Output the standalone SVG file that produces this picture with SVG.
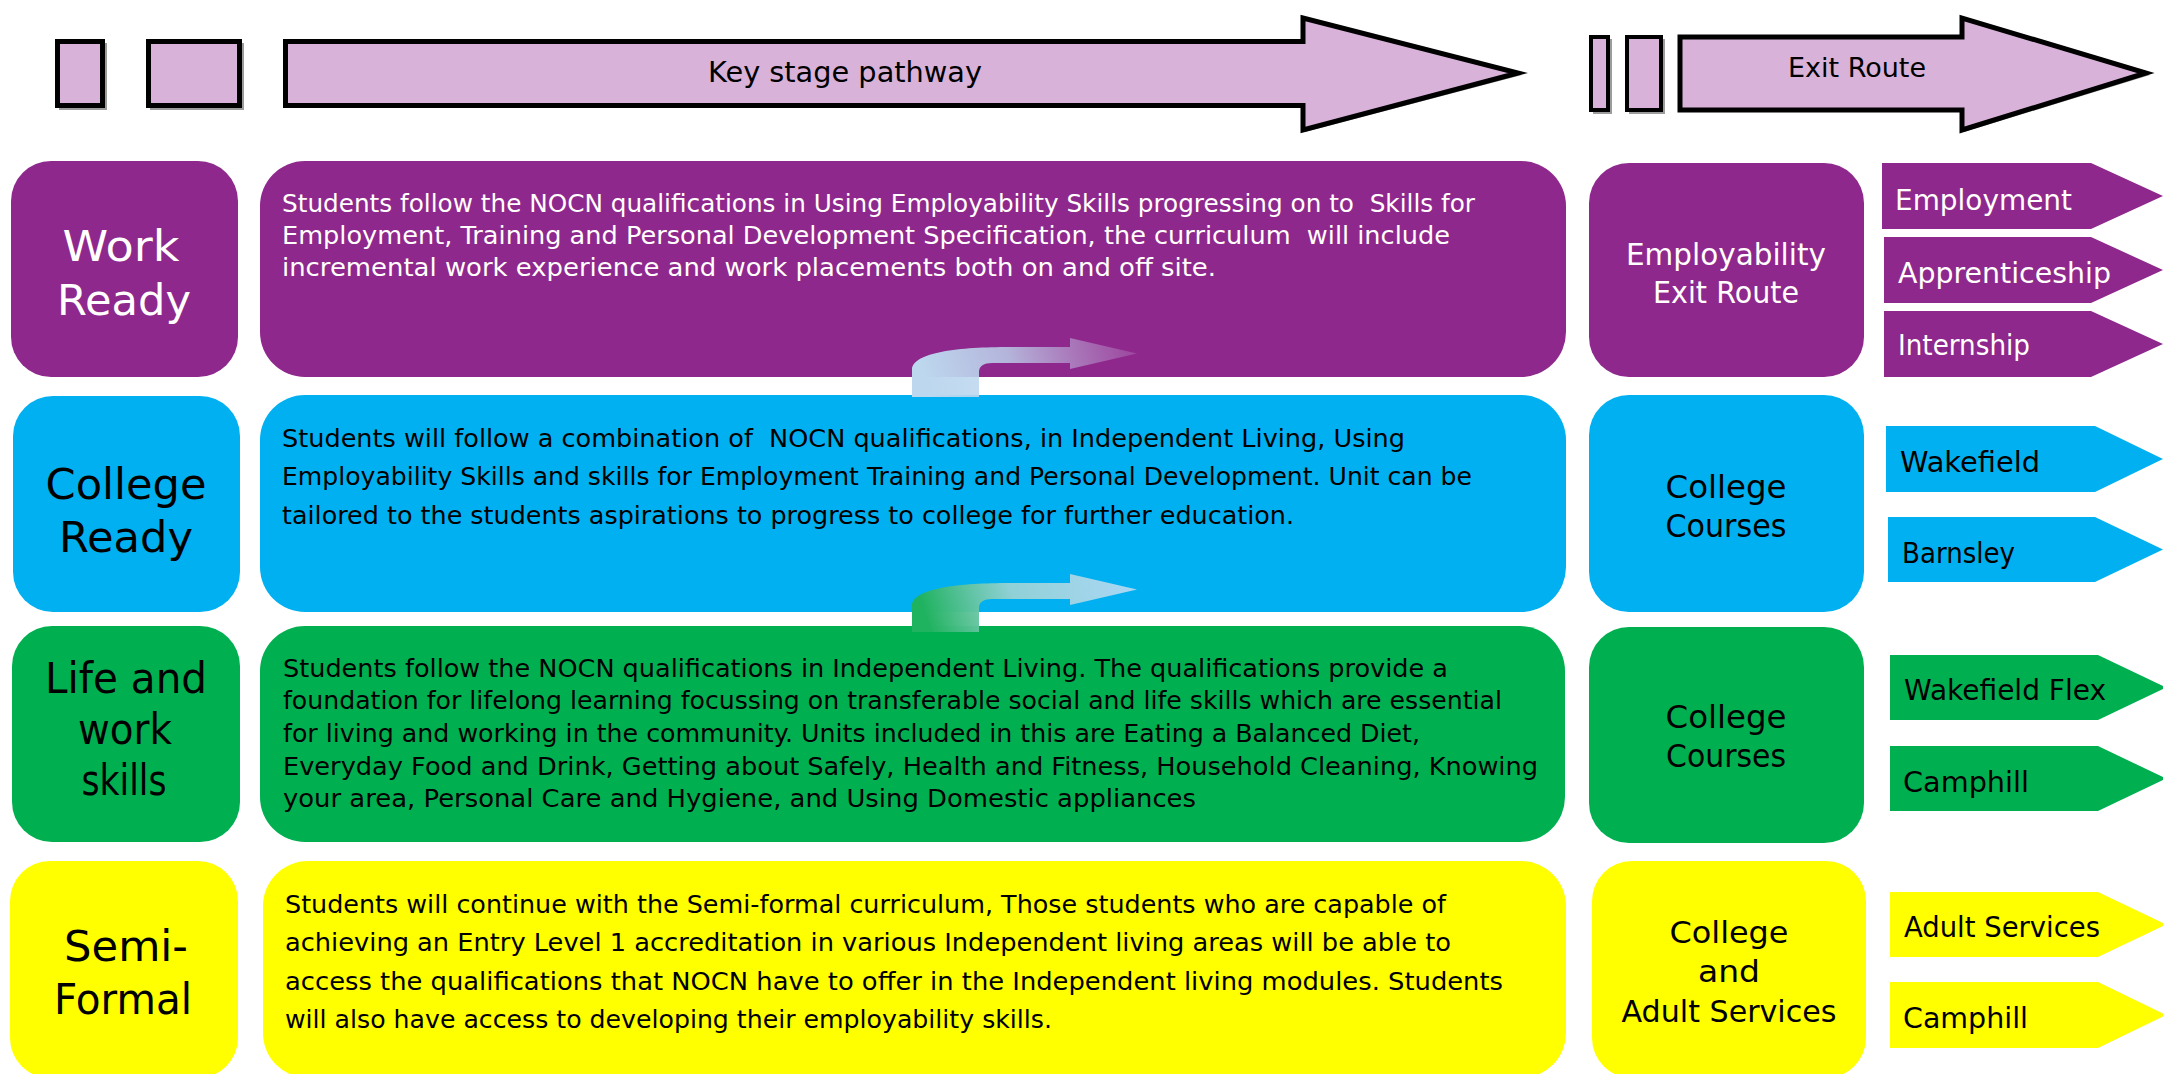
<svg xmlns="http://www.w3.org/2000/svg" width="2163" height="1074" viewBox="0 0 2163 1074">
<style>
.t{font-family:"DejaVu Sans","Liberation Sans",sans-serif}
.hdr{fill:#D8B2D8;stroke:#000;stroke-width:5;stroke-linejoin:miter;stroke-miterlimit:10}
.sh{fill:#9c9c9c}
.pur{fill:#8F288C}
.blu{fill:#00B0F0}
.grn{fill:#00B050}
.yel{fill:#FFFF00}
.lbl{font-size:42px;text-anchor:middle}
.body{font-size:25px}
.rt{text-anchor:middle}
.ex{font-size:28px}
.w{fill:#fff}
.k{fill:#000}
</style>
<defs>
<linearGradient id="g1" gradientUnits="userSpaceOnUse" x1="930" y1="395" x2="1137" y2="340">
<stop offset="0" stop-color="#BDD7EE" stop-opacity="1"/>
<stop offset="0.4" stop-color="#BDD7EE" stop-opacity="0.8"/>
<stop offset="1" stop-color="#C9B6DF" stop-opacity="0.2"/>
</linearGradient>
<linearGradient id="g2" gradientUnits="userSpaceOnUse" x1="930" y1="632" x2="1120" y2="575">
<stop offset="0" stop-color="#1FB25F" stop-opacity="1"/>
<stop offset="0.45" stop-color="#9CD3D4" stop-opacity="0.92"/>
<stop offset="1" stop-color="#C6DDF2" stop-opacity="0.85"/>
</linearGradient>
</defs>
<rect width="2163" height="1074" fill="#fff"/>

<g id="header">
<g id="hdr-box-a">
<rect class="sh" x="59" y="43" width="48" height="67"/>
<rect class="hdr" x="57.5" y="41.5" width="45" height="64"/>
</g>
<g id="hdr-box-b">
<rect class="sh" x="150" y="43" width="94" height="67"/>
<rect class="hdr" x="148.5" y="41.5" width="91" height="64"/>
</g>
<g id="key-stage-arrow">
<path class="sh" d="M287,43 H1305 V20 L1522,75 L1305,132 V108 H287 Z"/>
<path class="hdr" d="M285.5,41.5 H1303 V18 L1518,73 L1303,130 V105.5 H285.5 Z"/>
<text class="t" x="845" y="82" font-size="28.5" text-anchor="middle" fill="#000" textLength="274" lengthAdjust="spacingAndGlyphs">Key stage pathway</text>
</g>
<g id="hdr-box-c">
<rect class="sh" x="1593" y="39" width="19" height="75"/>
<rect class="hdr" style="stroke-width:4" x="1591" y="37" width="17" height="73"/>
</g>
<g id="hdr-box-d">
<rect class="sh" x="1629" y="39" width="36" height="75"/>
<rect class="hdr" style="stroke-width:4" x="1627" y="37" width="34" height="73"/>
</g>
<g id="exit-route-arrow">
<path class="sh" d="M1682,39 H1964 V20 L2150,75 L1964,132 V111 H1682 Z"/>
<path class="hdr" d="M1680,37 H1962 V18 L2146,73 L1962,130 V110 H1680 Z"/>
<text class="t" x="1857" y="77" font-size="26" text-anchor="middle" fill="#000" textLength="138" lengthAdjust="spacingAndGlyphs">Exit Route</text>
</g>
</g>

<g id="row-work-ready">
<g id="work-ready-label">
<rect class="pur" x="11" y="161" width="227" height="216" rx="40" ry="40"/>
<text class="t lbl w" x="121" y="261" textLength="117" lengthAdjust="spacingAndGlyphs">Work</text>
<text class="t lbl w" x="124" y="315" textLength="134" lengthAdjust="spacingAndGlyphs">Ready</text>
</g>
<g id="work-ready-body">
<rect class="pur" x="260" y="161" width="1306" height="216" rx="45" ry="45"/>
<text class="t body w" x="282" y="212" textLength="1193" lengthAdjust="spacingAndGlyphs" xml:space="preserve">Students follow the NOCN qualifications in Using Employability Skills progressing on to  Skills for</text>
<text class="t body w" x="282" y="244" textLength="1168" lengthAdjust="spacingAndGlyphs" xml:space="preserve">Employment, Training and Personal Development Specification, the curriculum  will include</text>
<text class="t body w" x="282" y="276" textLength="934" lengthAdjust="spacingAndGlyphs">incremental work experience and work placements both on and off site.</text>
</g>
<g id="work-ready-exit">
<rect class="pur" x="1589" y="163" width="275" height="214" rx="40" ry="40"/>
<text class="t rt w" x="1726" y="265" font-size="30" textLength="200" lengthAdjust="spacingAndGlyphs">Employability</text>
<text class="t rt w" x="1726" y="303" font-size="30" textLength="146" lengthAdjust="spacingAndGlyphs">Exit Route</text>
</g>
<g id="exit-employment">
<polygon class="pur" points="1882,163 2091,163 2163,196 2091,229 1882,229"/>
<text class="t ex w" x="1895" y="210" textLength="177" lengthAdjust="spacingAndGlyphs">Employment</text>
</g>
<g id="exit-apprenticeship">
<polygon class="pur" points="1884,237 2091,237 2163,270 2091,303 1884,303"/>
<text class="t ex w" x="1898" y="283" textLength="213" lengthAdjust="spacingAndGlyphs">Apprenticeship</text>
</g>
<g id="exit-internship">
<polygon class="pur" points="1884,311 2091,311 2163,344 2091,377 1884,377"/>
<text class="t ex w" x="1898" y="355" textLength="132" lengthAdjust="spacingAndGlyphs">Internship</text>
</g>
</g>

<g id="row-college-ready">
<g id="college-ready-label">
<rect class="blu" x="13" y="396" width="227" height="216" rx="40" ry="40"/>
<text class="t lbl k" x="126" y="499" textLength="161" lengthAdjust="spacingAndGlyphs">College</text>
<text class="t lbl k" x="126" y="552" textLength="134" lengthAdjust="spacingAndGlyphs">Ready</text>
</g>
<g id="college-ready-body">
<rect class="blu" x="260" y="395" width="1306" height="217" rx="45" ry="45"/>
<text class="t body k" x="282" y="447" textLength="1123" lengthAdjust="spacingAndGlyphs" xml:space="preserve">Students will follow a combination of  NOCN qualifications, in Independent Living, Using</text>
<text class="t body k" x="282" y="485" textLength="1190" lengthAdjust="spacingAndGlyphs">Employability Skills and skills for Employment Training and Personal Development. Unit can be</text>
<text class="t body k" x="282" y="524" textLength="1012" lengthAdjust="spacingAndGlyphs">tailored to the students aspirations to progress to college for further education.</text>
</g>
<g id="college-ready-exit">
<rect class="blu" x="1589" y="395" width="275" height="217" rx="40" ry="40"/>
<text class="t rt k" x="1726" y="498" font-size="32" textLength="121" lengthAdjust="spacingAndGlyphs">College</text>
<text class="t rt k" x="1726" y="537" font-size="32" textLength="121" lengthAdjust="spacingAndGlyphs">Courses</text>
</g>
<g id="exit-wakefield">
<polygon class="blu" points="1886,426 2095,426 2163,459 2095,492 1886,492"/>
<text class="t ex k" x="1900" y="472" textLength="140" lengthAdjust="spacingAndGlyphs">Wakefield</text>
</g>
<g id="exit-barnsley">
<polygon class="blu" points="1888,517 2095,517 2163,549.5 2095,582 1888,582"/>
<text class="t ex k" x="1902" y="563" textLength="113" lengthAdjust="spacingAndGlyphs">Barnsley</text>
</g>
</g>

<g id="row-life-work">
<g id="life-work-label">
<rect class="grn" x="12" y="626" width="228" height="216" rx="40" ry="40"/>
<text class="t lbl k" x="126" y="693" textLength="162" lengthAdjust="spacingAndGlyphs">Life and</text>
<text class="t lbl k" x="125" y="744" textLength="94" lengthAdjust="spacingAndGlyphs">work</text>
<text class="t lbl k" x="124" y="795" textLength="85" lengthAdjust="spacingAndGlyphs">skills</text>
</g>
<g id="life-work-body">
<rect class="grn" x="260" y="626" width="1305" height="216" rx="45" ry="45"/>
<text class="t body k" x="283" y="677" textLength="1165" lengthAdjust="spacingAndGlyphs">Students follow the NOCN qualifications in Independent Living. The qualifications provide a</text>
<text class="t body k" x="283" y="709" textLength="1219" lengthAdjust="spacingAndGlyphs">foundation for lifelong learning focussing on transferable social and life skills which are essential</text>
<text class="t body k" x="283" y="742" textLength="1137" lengthAdjust="spacingAndGlyphs">for living and working in the community. Units included in this are Eating a Balanced Diet,</text>
<text class="t body k" x="283" y="775" textLength="1255" lengthAdjust="spacingAndGlyphs">Everyday Food and Drink, Getting about Safely, Health and Fitness, Household Cleaning, Knowing</text>
<text class="t body k" x="283" y="807" textLength="913" lengthAdjust="spacingAndGlyphs">your area, Personal Care and Hygiene, and Using Domestic appliances</text>
</g>
<g id="life-work-exit">
<rect class="grn" x="1589" y="627" width="275" height="216" rx="40" ry="40"/>
<text class="t rt k" x="1726" y="728" font-size="32" textLength="121" lengthAdjust="spacingAndGlyphs">College</text>
<text class="t rt k" x="1726" y="767" font-size="32" textLength="120" lengthAdjust="spacingAndGlyphs">Courses</text>
</g>
<g id="exit-wakefield-flex">
<polygon class="grn" points="1890,655 2098,655 2166,687.5 2098,720 1890,720"/>
<text class="t ex k" x="1904" y="700" textLength="202" lengthAdjust="spacingAndGlyphs">Wakefield Flex</text>
</g>
<g id="exit-camphill-1">
<polygon class="grn" points="1890,746 2098,746 2166,778.5 2098,811 1890,811"/>
<text class="t ex k" x="1903" y="792" textLength="126" lengthAdjust="spacingAndGlyphs">Camphill</text>
</g>
</g>

<g id="row-semi-formal">
<g id="semi-formal-label">
<rect class="yel" x="10" y="861" width="228" height="217" rx="40" ry="40"/>
<text class="t lbl k" x="126" y="961" textLength="124" lengthAdjust="spacingAndGlyphs">Semi-</text>
<text class="t lbl k" x="123" y="1014" textLength="138" lengthAdjust="spacingAndGlyphs">Formal</text>
</g>
<g id="semi-formal-body">
<rect class="yel" x="263" y="861" width="1303" height="217" rx="45" ry="45"/>
<text class="t body k" x="285" y="913" textLength="1161" lengthAdjust="spacingAndGlyphs">Students will continue with the Semi-formal curriculum, Those students who are capable of</text>
<text class="t body k" x="285" y="951" textLength="1166" lengthAdjust="spacingAndGlyphs">achieving an Entry Level 1 accreditation in various Independent living areas will be able to</text>
<text class="t body k" x="285" y="990" textLength="1218" lengthAdjust="spacingAndGlyphs">access the qualifications that NOCN have to offer in the Independent living modules. Students</text>
<text class="t body k" x="285" y="1028" textLength="767" lengthAdjust="spacingAndGlyphs">will also have access to developing their employability skills.</text>
</g>
<g id="semi-formal-exit">
<rect class="yel" x="1592" y="861" width="274" height="217" rx="40" ry="40"/>
<text class="t rt k" x="1729" y="943" font-size="30" textLength="119" lengthAdjust="spacingAndGlyphs">College</text>
<text class="t rt k" x="1729" y="982" font-size="30" textLength="62" lengthAdjust="spacingAndGlyphs">and</text>
<text class="t rt k" x="1729" y="1022" font-size="30" textLength="215" lengthAdjust="spacingAndGlyphs">Adult Services</text>
</g>
<g id="exit-adult-services">
<polygon class="yel" points="1890,892 2098,892 2166,924.5 2098,957 1890,957"/>
<text class="t ex k" x="1904" y="937" textLength="196" lengthAdjust="spacingAndGlyphs">Adult Services</text>
</g>
<g id="exit-camphill-2">
<polygon class="yel" points="1890,982 2098,982 2166,1015 2098,1048 1890,1048"/>
<text class="t ex k" x="1903" y="1028" textLength="125" lengthAdjust="spacingAndGlyphs">Camphill</text>
</g>
</g>

<g id="connectors">
<path id="arrow-college-to-work" fill="url(#g1)" d="M912,397 V370 C912,352 960,347 1010,347 H1070 V338 L1137,353.5 L1070,369 V363 H992 C984,363 979,366 979,372 V397 Z"/>
<path id="arrow-life-to-college" fill="url(#g2)" d="M912,632 V606 C912,588 960,583 1010,583 H1070 V574 L1137,589.5 L1070,605 V599 H992 C984,599 979,602 979,608 V632 Z"/>
</g>
</svg>
